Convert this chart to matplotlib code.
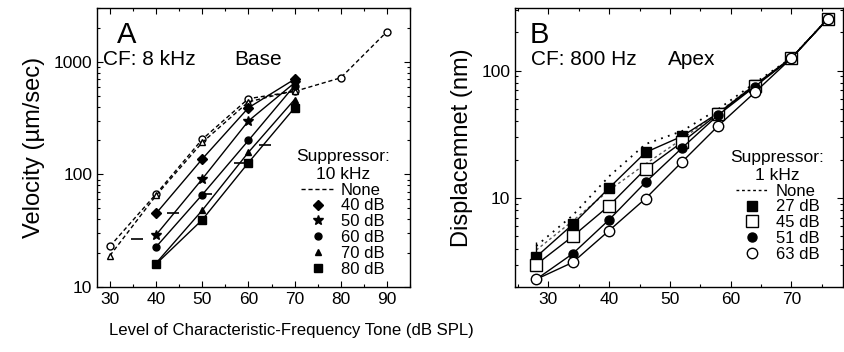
import matplotlib
matplotlib.use("Agg")
import matplotlib.pyplot as plt
from matplotlib.lines import Line2D
from matplotlib.ticker import FixedLocator, NullFormatter, MultipleLocator, LogLocator
import numpy as np

plt.rcParams['font.family'] = ['Liberation Sans', 'DejaVu Sans']

# ---------------- Panel A data (Base, CF 8 kHz) ----------------
a_none_x = [30, 40, 50, 60, 70, 80, 90]
a_none_y = [23, 67, 205, 470, 545, 720, 1850]
a_none2_x = [30, 40, 50, 60, 70]
a_none2_y = [19, 65, 192, 440, 555]
a_levels_x = [40, 50, 60, 70]
a_series_labels = ["40 dB", "50 dB", "60 dB", "70 dB", "80 dB"]
a_40 = [45, 137, 390, 700]
a_50 = [29, 91, 298, 650]
a_60 = [22.7, 66, 200, 615]
a_70 = [16.3, 48, 157, 462]
a_80 = [16, 39.5, 127, 390]
a_marks_x = [35.8, 43.7, 50.9, 58.2, 63.5]
a_marks_y = [26.5, 45, 67, 126, 182]

# ---------------- Panel B data (Apex, CF 800 Hz) ----------------
b_x = [28, 34, 40, 46, 52, 58, 64, 70, 76]
b_series_labels = ["27 dB", "45 dB", "51 dB", "63 dB"]
b_27 = [3.45, 6.2, 12.0, 22.8, 30.5, 46.5, 77.5, 126, 255]
b_45 = [3.0, 5.0, 8.7, 16.9, 27.4, 46, 76, 125, 255]
b_51 = [2.3, 3.65, 6.75, 13.3, 24.7, 45, 75, 125, 255]
b_63 = [2.3, 3.12, 5.55, 9.9, 19.2, 37, 67.5, 125, 255]
b_none_y = [4.2, 7.3, 14.8, 26.5, 33.5, 50, 80, 126, 255]
b_none2_x = [28, 34, 40, 46, 52, 58, 64]
b_none2_y = [3.9, 6.6, 11.5, 18.5, 29, 47, 78]
b_err_x = [28]
b_err_lo = [3.7]
b_err_hi = [4.5]

fig = plt.figure(figsize=(8.45, 3.52), dpi=100)
axA = fig.add_axes([97/845, 1-287/352, 313/845, 279/352])
axB = fig.add_axes([515/845, 1-287/352, 328/845, 279/352])

tick_fs = 12.5
lw = 1.0

def style(ax):
    ax.set_yscale('log')
    ax.tick_params(which='both', direction='in', top=True, right=True,
                   labelsize=tick_fs, width=0.8)
    ax.tick_params(which='major', length=4)
    ax.tick_params(which='minor', length=2.5)
    for s in ax.spines.values():
        s.set_linewidth(1.0)

# ---------- Panel A ----------
style(axA)
axA.plot(a_none_x, a_none_y, ls=(0, (3, 2)), color='k', lw=lw, marker='o',
         mfc='white', mec='k', ms=5)
axA.plot(a_none2_x, a_none2_y, ls=(0, (3, 2)), color='k', lw=lw, marker='^',
         mfc='white', mec='k', ms=4.5)
a_markers = ['D', '*', 'o', '^', 's']
a_ms = [5, 7.5, 5, 5, 5.5]
a_data = [a_40, a_50, a_60, a_70, a_80]
handlesA = [Line2D([], [], ls=(0, (3, 2)), color='k', lw=lw)]
for d, m, s, lab in zip(a_data, a_markers, a_ms, a_series_labels):
    axA.plot(a_levels_x, d, color='k', lw=lw, marker=m, ms=s, mfc='k', mec='k')
    handlesA.append(Line2D([], [], ls='none', marker=m, ms=s, color='k'))
axA.plot(a_marks_x, a_marks_y, ls='none', marker='_', ms=9, mew=1.2, color='k')
axA.set_xlim(27.2, 95)
axA.set_ylim(10, 3000)
axA.xaxis.set_major_locator(FixedLocator([30, 40, 50, 60, 70, 80, 90]))
axA.xaxis.set_minor_locator(MultipleLocator(5))
axA.yaxis.set_major_locator(FixedLocator([10, 100, 1000]))
axA.yaxis.set_minor_locator(LogLocator(base=10, subs=np.arange(2, 10)))
axA.yaxis.set_minor_formatter(NullFormatter())
axA.set_yticklabels(['10', '100', '1000'])
axA.set_ylabel('Velocity (µm/sec)', fontsize=17, labelpad=6)
axA.text(0.065, 0.955, 'A', transform=axA.transAxes, fontsize=21, va='top', ha='left')
axA.text(0.02, 0.815, 'CF: 8 kHz', transform=axA.transAxes, fontsize=15, va='center', ha='left')
axA.text(0.44, 0.815, 'Base', transform=axA.transAxes, fontsize=15, va='center', ha='left')
legA = axA.legend(handlesA, ['None'] + a_series_labels, title='Suppressor:\n10 kHz',
                  frameon=False, fontsize=12, title_fontsize=12.5, loc='center',
                  bbox_to_anchor=(0.785, 0.265), handlelength=2.0, handletextpad=0.4,
                  labelspacing=0.05, borderpad=0.2, alignment='center')
legA.get_title().set_multialignment('center')

# ---------- Panel B ----------
style(axB)
axB.plot(b_x, b_none_y, ls=(0, (1, 3)), color='k', lw=1.3)
axB.plot(b_none2_x, b_none2_y, ls=(0, (2, 2)), color='0.35', lw=1.0)
axB.vlines(b_err_x, b_err_lo, b_err_hi, color='k', lw=1.0)
b_data = [b_27, b_45, b_51, b_63]
b_markers = ['s', 's', 'o', 'o']
b_fill = ['k', 'white', 'k', 'white']
b_ms = [7, 8, 6.5, 7.5]
handlesB = [Line2D([], [], ls=(0, (2, 2)), color='k', lw=lw)]
for d, m, f, s in zip(b_data, b_markers, b_fill, b_ms):
    axB.plot(b_x, d, color='k', lw=lw, marker=m, ms=s, mfc=f, mec='k', mew=1.0)
    handlesB.append(Line2D([], [], ls='none', marker=m, ms=s, mfc=f, mec='k', mew=1.0))
axB.set_xlim(24.5, 78.5)
axB.set_ylim(2.0, 310)
axB.xaxis.set_major_locator(FixedLocator([30, 40, 50, 60, 70]))
axB.xaxis.set_minor_locator(MultipleLocator(5))
axB.yaxis.set_major_locator(FixedLocator([10, 100]))
axB.yaxis.set_minor_locator(LogLocator(base=10, subs=np.arange(2, 10)))
axB.yaxis.set_minor_formatter(NullFormatter())
axB.set_yticklabels(['10', '100'])
axB.set_ylabel('Displacemnet (nm)', fontsize=17, labelpad=6)
axB.text(0.045, 0.955, 'B', transform=axB.transAxes, fontsize=21, va='top', ha='left')
axB.text(0.05, 0.815, 'CF: 800 Hz', transform=axB.transAxes, fontsize=15, va='center', ha='left')
axB.text(0.465, 0.815, 'Apex', transform=axB.transAxes, fontsize=15, va='center', ha='left')
legB = axB.legend(handlesB, ['None'] + b_series_labels, title='Suppressor:\n1 kHz',
                  frameon=False, fontsize=12, title_fontsize=12.5, loc='center',
                  bbox_to_anchor=(0.80, 0.29), handlelength=2.0, handletextpad=0.4,
                  labelspacing=0.05, borderpad=0.2, alignment='center')
legB.get_title().set_multialignment('center')

fig.text(0.345, 0.062, 'Level of Characteristic-Frequency Tone (dB SPL)',
         fontsize=12.1, ha='center', va='center')

fig.savefig('out.png', dpi=100)
